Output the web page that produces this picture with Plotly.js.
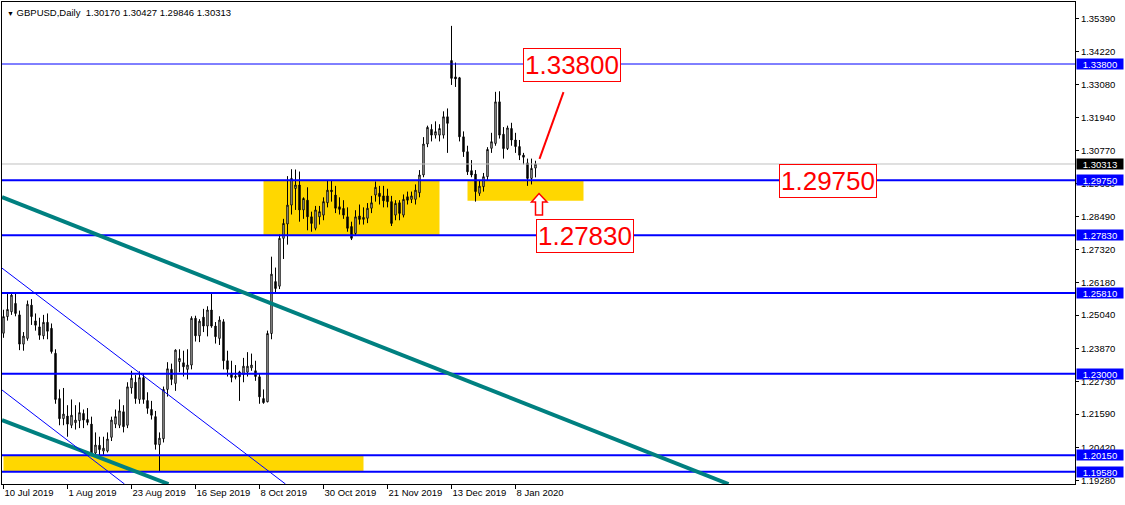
<!DOCTYPE html>
<html>
<head>
<meta charset="utf-8">
<script src="https://cdn.plot.ly/plotly-3.0.1.min.js"></script>
<style>html,body{margin:0;padding:0;background:#fff;}#chart{width:1125px;height:505px;}</style>
</head>
<body>
<div id="chart"></div>
<script>
// ---- Data: GBPUSD daily bars (trading days) ----
var dates = ["2019-07-10","2019-07-11","2019-07-12","2019-07-15","2019-07-16","2019-07-17","2019-07-18","2019-07-19","2019-07-22","2019-07-23","2019-07-24","2019-07-25","2019-07-26","2019-07-29","2019-07-30","2019-07-31",
"2019-08-01","2019-08-02","2019-08-05","2019-08-06","2019-08-07","2019-08-08","2019-08-09","2019-08-12","2019-08-13","2019-08-14","2019-08-15","2019-08-16","2019-08-19","2019-08-20","2019-08-21","2019-08-22",
"2019-08-23","2019-08-26","2019-08-27","2019-08-28","2019-08-29","2019-08-30","2019-09-02","2019-09-03","2019-09-04","2019-09-05","2019-09-06","2019-09-09","2019-09-10","2019-09-11","2019-09-12","2019-09-13",
"2019-09-16","2019-09-17","2019-09-18","2019-09-19","2019-09-20","2019-09-23","2019-09-24","2019-09-25","2019-09-26","2019-09-27","2019-09-30","2019-10-01","2019-10-02","2019-10-03","2019-10-04","2019-10-07",
"2019-10-08","2019-10-09","2019-10-10","2019-10-11","2019-10-14","2019-10-15","2019-10-16","2019-10-17","2019-10-18","2019-10-21","2019-10-22","2019-10-23","2019-10-24","2019-10-25","2019-10-28","2019-10-29",
"2019-10-30","2019-10-31","2019-11-01","2019-11-04","2019-11-05","2019-11-06","2019-11-07","2019-11-08","2019-11-11","2019-11-12","2019-11-13","2019-11-14","2019-11-15","2019-11-18","2019-11-19","2019-11-20",
"2019-11-21","2019-11-22","2019-11-25","2019-11-26","2019-11-27","2019-11-28","2019-11-29","2019-12-02","2019-12-03","2019-12-04","2019-12-05","2019-12-06","2019-12-09","2019-12-10","2019-12-11","2019-12-12",
"2019-12-13","2019-12-16","2019-12-17","2019-12-18","2019-12-19","2019-12-20","2019-12-23","2019-12-24","2019-12-26","2019-12-27","2019-12-30","2019-12-31","2020-01-02","2020-01-03","2020-01-06","2020-01-07",
"2020-01-08","2020-01-09","2020-01-10","2020-01-13","2020-01-14","2020-01-15"];

var open = [1.2441,1.2499,1.2516,1.2545,1.2505,1.2403,1.2423,1.2539,1.2484,1.2463,1.2432,1.2479,1.2458,1.2371,1.2213,1.2143,
1.2152,1.2120,1.2129,1.2136,1.2161,1.2140,1.2124,1.2023,1.2050,1.2030,1.2030,1.2078,1.2124,1.2120,1.2167,1.2120,
1.2250,1.2270,1.2210,1.2286,1.2206,1.2175,1.2150,1.2052,1.2073,1.2245,1.2315,1.2266,1.2342,1.2338,1.2315,1.2330,
1.2493,1.2432,1.2497,1.2466,1.2522,1.2466,1.2423,1.2481,1.2345,1.2301,1.2287,1.2306,1.2297,1.2305,1.2320,1.2310,
1.2289,1.2213,1.2202,1.2440,1.2621,1.2605,1.2772,1.2822,1.2888,1.2946,1.2958,1.2871,1.2905,1.2847,1.2807,1.2847,
1.2853,1.2896,1.2940,1.2923,1.2882,1.2876,1.2847,1.2813,1.2789,1.2850,1.2838,1.2842,1.2877,1.2923,1.2929,1.2920,
1.2920,1.2900,1.2853,1.2896,1.2853,1.2917,1.2908,1.2908,1.2931,1.2993,1.3101,1.3152,1.3132,1.3132,1.3132,1.3196,
1.3392,1.3335,1.3332,1.3126,1.3074,1.3008,1.2996,1.2929,1.2952,1.2987,1.3086,1.3103,1.3248,1.3135,1.3085,1.3155,
1.3115,1.3092,1.3062,1.3035,1.2981,1.30170];

var high = [1.2523,1.2580,1.2579,1.2578,1.2520,1.2445,1.2555,1.2560,1.2510,1.2495,1.2505,1.2510,1.2475,1.2385,1.2245,1.2250,
1.2190,1.2210,1.2190,1.2200,1.2175,1.2180,1.2150,1.2095,1.2080,1.2080,1.2095,1.2150,1.2175,1.2210,1.2190,1.2270,
1.2310,1.2295,1.2308,1.2300,1.2235,1.2205,1.2170,1.2095,1.2255,1.2340,1.2335,1.2385,1.2385,1.2380,1.2385,1.2500,
1.2502,1.2490,1.2526,1.2535,1.2582,1.2480,1.2500,1.2490,1.2380,1.2345,1.2330,1.2310,1.2355,1.2375,1.2370,1.2345,
1.2300,1.2245,1.2450,1.2708,1.2670,1.2785,1.2840,1.2989,1.3013,1.3012,1.3005,1.2915,1.2950,1.2865,1.2885,1.2885,
1.2915,1.2975,1.2975,1.2955,1.2915,1.2905,1.2880,1.2830,1.2870,1.2890,1.2880,1.2895,1.2920,1.2970,1.2955,1.2955,
1.2945,1.2920,1.2905,1.2905,1.2925,1.2935,1.2935,1.2960,1.3010,1.3125,1.3165,1.3170,1.3180,1.3170,1.3215,1.3225,
1.3513,1.3385,1.3335,1.3145,1.3095,1.3045,1.3010,1.2975,1.3000,1.3090,1.3140,1.3283,1.3285,1.3160,1.3165,1.3175,
1.3140,1.3115,1.3070,1.3050,1.3050,1.30427];

var low = [1.2425,1.2485,1.2505,1.2500,1.2382,1.2380,1.2415,1.2470,1.2450,1.2418,1.2420,1.2420,1.2370,1.2195,1.2120,1.2120,
1.2080,1.2110,1.2105,1.2110,1.2110,1.2120,1.2014,1.2015,1.2015,1.2017,1.2025,1.2065,1.2110,1.2110,1.2095,1.2110,
1.2230,1.2195,1.2195,1.2195,1.2160,1.2140,1.2035,1.1958,1.2060,1.2220,1.2260,1.2240,1.2305,1.2290,1.2280,1.2315,
1.2412,1.2410,1.2445,1.2430,1.2460,1.2405,1.2400,1.2315,1.2290,1.2270,1.2280,1.2205,1.2270,1.2290,1.2310,1.2275,
1.2195,1.2195,1.2200,1.2420,1.2580,1.2595,1.2700,1.2750,1.2855,1.2871,1.2830,1.2840,1.2800,1.2795,1.2800,1.2820,
1.2835,1.2880,1.2900,1.2860,1.2855,1.2840,1.2795,1.2766,1.2780,1.2820,1.2820,1.2825,1.2860,1.2900,1.2890,1.2880,
1.2880,1.2815,1.2835,1.2835,1.2845,1.2890,1.2895,1.2890,1.2915,1.2985,1.3090,1.3110,1.3120,1.3110,1.3120,1.3070,
1.3307,1.3300,1.3110,1.3056,1.2993,1.2985,1.2900,1.2920,1.2935,1.2975,1.3070,1.3095,1.3120,1.3050,1.3080,1.3095,
1.3070,1.3045,1.3030,1.2955,1.2960,1.29846];

var close = [1.2499,1.2524,1.2574,1.2510,1.2403,1.2431,1.2542,1.2499,1.2469,1.2434,1.2479,1.2448,1.2377,1.2210,1.2143,1.2159,
1.2124,1.2155,1.2138,1.2164,1.2138,1.2130,1.2016,1.2051,1.2035,1.2040,1.2072,1.2138,1.2150,1.2170,1.2115,1.2254,
1.2284,1.2213,1.2286,1.2210,1.2179,1.2155,1.2053,1.2075,1.2245,1.2317,1.2280,1.2382,1.2353,1.2324,1.2330,1.2493,
1.2432,1.2483,1.2466,1.2522,1.2466,1.2429,1.2487,1.2345,1.2315,1.2287,1.2291,1.2289,1.2326,1.2326,1.2330,1.2290,
1.2219,1.2199,1.2440,1.2647,1.2597,1.2772,1.2824,1.2888,1.2981,1.2958,1.2871,1.2911,1.2847,1.2824,1.2871,1.2865,
1.2900,1.2940,1.2935,1.2877,1.2873,1.2853,1.2807,1.2772,1.2847,1.2838,1.2845,1.2877,1.2896,1.2950,1.2918,1.2903,
1.2900,1.2824,1.2894,1.2859,1.2908,1.2905,1.2920,1.2940,1.2993,1.3101,1.3159,1.3132,1.3144,1.3155,1.3196,1.3173,
1.3330,1.3328,1.3126,1.3074,1.3004,1.2993,1.2935,1.2954,1.2987,1.3082,1.3109,1.3248,1.3132,1.3085,1.3157,1.3115,
1.3092,1.3062,1.3055,1.2981,1.3016,1.30313];

// x-axis tick labels (every 16 bars)
var xTickIndex = [0,16,32,48,64,80,96,112,128];
var xTickLabels = ["10 Jul 2019","1 Aug 2019","23 Aug 2019","16 Sep 2019","8 Oct 2019","30 Oct 2019","21 Nov 2019","13 Dec 2019","8 Jan 2020"];

// y-axis price ticks
var yTicks = [1.35390,1.34220,1.33080,1.31940,1.30770,1.29630,1.28490,1.27320,1.26180,1.25040,1.23870,1.22730,1.21590,1.20420,1.19280];

// horizontal levels drawn on chart
var levels = [1.33800,1.29750,1.27830,1.25810,1.23000,1.20150,1.19580];
var currentPrice = 1.30313;
var header = "GBPUSD,Daily\u00a0\u00a01.30170\u00a01.30427\u00a01.29846\u00a01.30313";

// ---- Build ----
var idx = dates.map(function(d,i){return i;});

var trace = {
  type:'candlestick', x: idx, open: open, high: high, low: low, close: close,
  increasing:{line:{color:'#000000',width:1}, fillcolor:'#ffffff'},
  decreasing:{line:{color:'#000000',width:1}, fillcolor:'#000000'},
  whiskerwidth:0, hoverinfo:'skip', showlegend:false
};

var FONT = 'Tahoma, "Liberation Sans", Arial, sans-serif';
var BLUE = '#0000FF', TEAL = '#008080', GOLD = '#FFD700', RED = '#FF0000';
var X0 = -0.375, X1 = 267.875;

var shapes = [];
// yellow zones (time/price anchored)
shapes.push({type:'rect', layer:'below', xref:'x', yref:'y', x0:65, x1:109, y0:1.2783, y1:1.2975, fillcolor:GOLD, line:{width:0}});
shapes.push({type:'rect', layer:'below', xref:'x', yref:'y', x0:116, x1:145, y0:1.2903, y1:1.2975, fillcolor:GOLD, line:{width:0}});
shapes.push({type:'rect', layer:'below', xref:'x', yref:'y', x0:0, x1:90, y0:1.1958, y1:1.2015, fillcolor:GOLD, line:{width:0}});
// current price line
shapes.push({type:'line', xref:'x', yref:'y', x0:X0, x1:X1, y0:currentPrice, y1:currentPrice, line:{color:'#C0C0C0', width:1}});
// horizontal levels
levels.forEach(function(v,i){
  shapes.push({type:'line', xref:'x', yref:'y', x0:X0, x1:X1, y0:v, y1:v, line:{color:BLUE, width:(i===0?1:2)}});
});
// trend lines
shapes.push({type:'line', xref:'x', yref:'y', x0:-0.375, y0:1.2916, x1:181.25, y1:1.1915, line:{color:TEAL, width:4}});
shapes.push({type:'line', xref:'x', yref:'y', x0:-0.375, y0:1.2138, x1:41.25, y1:1.1915, line:{color:TEAL, width:4}});
shapes.push({type:'line', xref:'x', yref:'y', x0:-0.375, y0:1.2668, x1:70.5, y1:1.1915, line:{color:BLUE, width:1}});
shapes.push({type:'line', xref:'x', yref:'y', x0:-0.375, y0:1.2243, x1:30.25, y1:1.1915, line:{color:BLUE, width:1}});
// red line
shapes.push({type:'line', xref:'x', yref:'y', x0:134, y0:1.3049, x1:140, y1:1.3282, line:{color:RED, width:2}});
// red hollow arrow
shapes.push({type:'path', xref:'x', yref:'y',
  path:'M 133.875,1.29283 L 135.875,1.28986 L 134.75,1.28986 L 134.75,1.28533 L 133,1.28533 L 133,1.28986 L 132,1.28986 Z',
  fillcolor:'#ffffff', line:{color:RED, width:1.5}});

var annotations = [];
annotations.push({xref:'paper', yref:'paper', x:0, y:1, xanchor:'left', yanchor:'top', xshift:3, yshift:-3,
  text:'<span style="font-size:7px">▼</span>\u00a0'+header, showarrow:false, font:{family:FONT, size:9.5, color:'#000'}});
// big red labels
[[142.1,1.33782,'1.33800'],[206.1,1.29719,'1.29750'],[145.25,1.27800,'1.27830']].forEach(function(a){
  annotations.push({xref:'x', yref:'y', x:a[0], y:a[1], text:a[2], showarrow:false,
    font:{family:'"Liberation Sans", Arial, sans-serif', size:26, color:RED},
    bgcolor:'#ffffff', bordercolor:RED, borderwidth:1, borderpad:1});
});
// right axis level boxes
levels.forEach(function(v){
  annotations.push({xref:'paper', yref:'y', x:1, y:v, xanchor:'left', xshift:1, text:v.toFixed(5), showarrow:false,
    font:{family:FONT, size:9.5, color:'#ffffff'}, bgcolor:BLUE, width:46, height:10, borderpad:0});
});
annotations.push({xref:'paper', yref:'y', x:1, y:currentPrice, xanchor:'left', xshift:1, text:currentPrice.toFixed(5), showarrow:false,
  font:{family:FONT, size:9.5, color:'#ffffff'}, bgcolor:'#000000', width:46, height:10, borderpad:0});

var layout = {
  width:1125, height:505,
  margin:{l:2, r:50, t:2, b:21, pad:0},
  paper_bgcolor:'#ffffff', plot_bgcolor:'#ffffff',
  showlegend:false, boxgap:0.5,
  font:{family:FONT, size:9.5, color:'#000'},
  xaxis:{range:[X0, X1], tickvals:xTickIndex, ticktext:xTickLabels, ticks:'outside', ticklen:4, tickcolor:'#000',
    ticklabelposition:'outside right', tickfont:{family:FONT, size:9.5, color:'#000'},
    showline:true, linecolor:'#000', linewidth:1, mirror:true, showgrid:false, zeroline:false,
    rangeslider:{visible:false}, fixedrange:true},
  yaxis:{side:'right', range:[1.19151, 1.35963], tickvals:yTicks, tickformat:'.5f', ticks:'outside', ticklen:3, tickcolor:'#000',
    tickfont:{family:FONT, size:9.5, color:'#000'},
    showline:true, linecolor:'#000', linewidth:1, mirror:true, showgrid:false, zeroline:false, fixedrange:true},
  shapes:shapes, annotations:annotations
};

Plotly.newPlot('chart', [trace], layout, {staticPlot:true, displayModeBar:false});
</script>
</body>
</html>
